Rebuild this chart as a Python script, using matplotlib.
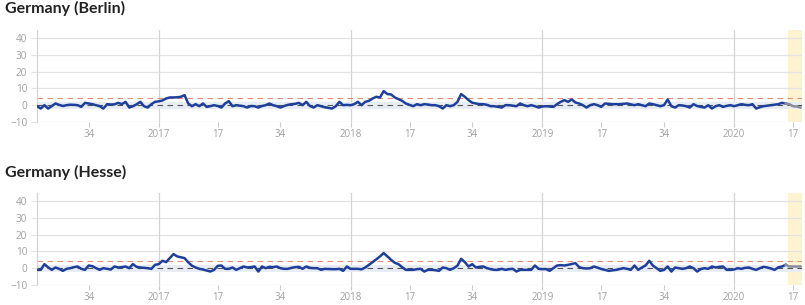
import matplotlib
matplotlib.use("Agg")
import matplotlib.pyplot as plt
import numpy as np

# ---------------- data ----------------
weeks_per_year = {2016: 52, 2017: 52, 2018: 52, 2019: 52, 2020: 53}
start_year, start_week = 2016, 20

berlin = [
    -0.6, -2, 0, -2, -0.5, 1, 0.2, -0.5, 0, 0.3,
    0.2, 0, -1, 1.4, 1, 0.6, 0, -0.6, -2, 0.6,
    0.4, 0.5, 1.4, 0.6, 2, -1.4, -0.6, 0.5, 2, -0.6,
    -1.4, 0.6, 2, 2.3, 2.8, 4, 4.6, 4.6, 4.7, 5,
    6, 1, -0.6, 0.6, -0.6, 1, -1, -0.6, 0, -0.5,
    -1.4, 1, 2.4, -0.6, 0, -0.3, -0.6, -1.4, -0.5, -0.6,
    -1.4, -0.5, 0, 1,
    0, -0.6, -1.4, -0.5, 0.2, 0.6, 0.8, 1.4, 0, 2,
    -0.5, -1.4, 0, -0.6, -1.2, -1.6, -2, -0.6, 2, 0,
    0.2, 0, 0.6, 2, 0, 2, 2.6, 4, 5, 4.6,
    8.4, 6.6, 6.4, 4.6, 3.6, 2.6, 1, 0.2, -0.6, 0.6,
    0, 0.6, 0.4, 0, 0, -0.6, -2, 0, -0.6, 0,
    2, 6.6, 5, 3, 1.5, 1, 0.6, 0.6, 0.2, -0.6,
    -0.6, -1, -1.4, 0, 0, -0.3, -0.6, 1, 0, -0.6,
    0, -0.6, -1.4,
    -0.8, -0.6, -0.8, -1, 0.6, 2, 3, 2, 3.4, 1.6,
    1, 0, -1.4, 0, 0.6, 0, -1, 1, 0.8, 0.6,
    0.6, 0.6, 0.8, 1, 0.5, 0, 0.6, 0, -0.6, 1,
    0.6, 0, -0.6, 0, 3.4, -0.6, -1.4, 0, -0.2, -0.6,
    -1.4, 0.6, -0.5, -1, -1.4, 0, -2, -0.6, 0, -1,
    -0.4, 0, -0.6, 0, 0.6, 0.2, 0, 0.6, -2, -1.2,
    -0.6, -0.3, 0, 0.3, 0.6, 1.4, 1, 0.6, -0.6, -0.8, -1.4,
]

hesse = [
    -1, -1, 2.4, 0.5, -1, 0.4, -0.4, -1.6, -0.4, 0,
    0.6, 1, -0.4, -1, 1.6, 1.2, 0, -1, 0, -0.4,
    -0.8, 1, 0.4, 0.6, 1, 0, 2.4, 0.8, 0.4, 0.2,
    0, -0.4, 2, 2.4, 4.4, 3.6, 6, 8.4, 7, 6.5,
    6, 3.5, 1.5, 0.4, -0.4, -0.8, -1.4, -2, -1, 1.4,
    1.6, -0.4, -0.4, 0.4, -1, 0, 1, 0.4, 0.6, 1,
    -2, 1, 0, 0.8,
    0.6, 1, 0, -0.4, -0.4, 0.2, 0.6, 0.8, -0.4, 1,
    0.2, 0, 0, -1, -0.4, -0.5, -0.6, -0.6, -0.4, -1.6,
    1, -0.4, -0.4, -0.4, -0.7, 0.4, 2, 3.6, 5.3, 7,
    9, 7, 5, 3.2, 2.4, 0.6, -1, -1, -1, -0.6,
    -0.4, -2, -1, -1, -1.2, -1.6, 0.4, 0, -1, 0,
    1.5, 5.6, 3.6, 1, 2.4, 0.4, 0.8, 1, 0, -0.6,
    -1, -1, -0.4, -1, -0.6, -0.4, -2, -1, -1, -1,
    -1, 1.6, -0.4,
    -0.6, -0.5, -1.6, 0, 1.6, 1.8, 1.6, 2, 2.5, 3,
    0.6, 0, -0.2, 0, 1, 0.3, -0.5, -1, -1.6, -1.3,
    -1, -0.5, 0, -0.4, -1, 1.6, -1, 0.4, 1.6, 4.4,
    1.5, 0, -1.6, -1, 1, -2, 0.4, 0, -0.4, 0,
    1, 0, -2, -0.5, 0, -0.4, 1, 0.4, 0.8, 1,
    -1, -1, -0.8, 0, -0.4, 0.2, 0.4, -0.4, -1, 0,
    0.8, 0.4, -0.2, -1, 0.5, 1, 2, 1, 1, 1, 1,
]

panel_titles = ["Germany (Berlin)", "Germany (Hesse)"]
tick_weeks = [(2016, 34), (2017, 1), (2017, 17), (2017, 34), (2018, 1), (2018, 17),
              (2018, 34), (2019, 1), (2019, 17), (2019, 34), (2020, 1), (2020, 17)]
tick_labels = ["34", "2017", "17", "34", "2018", "17", "34", "2019", "17", "34", "2020", "17"]
year_lines = [(2017, 1), (2018, 1), (2019, 1), (2020, 1)]
provisional_start = (2020, 15)   # grey, not yet complete weeks
highlight_start = (2020, 16)
y_ticks = [-10, 0, 10, 20, 30, 40]
baseline = 0
threshold = 4
band = (-2, 2)


def wk(year, week):
    off = 0
    for y in range(2016, year):
        off += weeks_per_year[y]
    return off + week - 1


# ---------------- figure ----------------
plt.rcParams["font.family"] = ["Open Sans", "DejaVu Sans"]
fig = plt.figure(figsize=(8.05, 3.05), dpi=100)

x0 = wk(start_year, start_week)
x_left = x0
x_right = x0 + len(berlin) - 1 + 0.3

axes_boxes = [
    [0.046, 0.5984, 0.9497, 0.3046],
    [0.046, 0.0640, 0.9497, 0.3046],
]
title_y = [0.972, 0.433]

grid_c = "#e3e3e3"
line_c = "#1f3f9c"
grey_c = "#8c8c9a"
tick_c = "#a0a0a0"

for box, ty, title, vals in zip(axes_boxes, title_y, panel_titles, [berlin, hesse]):
    ax = fig.add_axes(box)
    x = np.arange(x0, x0 + len(vals))
    v = np.array(vals, dtype=float)

    ax.set_xlim(x_left, x_right)
    ax.set_ylim(-10.3, 45)

    # highlight for last weeks
    ax.axvspan(wk(*highlight_start) - 0.3, x_right, color="#fdf4cf", zorder=0, lw=0)

    # horizontal grid
    for yt in y_ticks:
        ax.axhline(yt, color=grid_c, lw=0.9, zorder=1)
    # year lines
    for yl in year_lines:
        ax.axvline(wk(*yl), color="#d4d4d4", lw=0.9, zorder=1)

    # normal band
    ax.axhspan(band[0], band[1], color="#e8edf4", zorder=1.5, lw=0)
    ax.axhline(baseline, color="#555555", lw=0.8, ls=(0, (5, 4)), zorder=2)
    ax.axhline(threshold, color="#e0907a", lw=0.8, ls=(0, (5, 4)), zorder=2)

    ps = wk(*provisional_start) - x0
    ax.plot(x[:ps + 1], v[:ps + 1], color=line_c, lw=1.8, zorder=3,
            solid_joinstyle="round")
    ax.plot(x[ps:], v[ps:], color=grey_c, lw=1.8, zorder=3)

    ax.set_yticks(y_ticks)
    ax.set_yticklabels([str(t).replace("-", "\u2212") for t in y_ticks])
    ax.set_xticks([wk(*t) for t in tick_weeks])
    ax.set_xticklabels(tick_labels)
    ax.tick_params(axis="x", length=3.5, width=0.8, color="#cccccc", labelcolor=tick_c,
                   labelsize=7.0, pad=1.5)
    ax.tick_params(axis="y", length=4, width=0.8, color=grid_c, labelcolor=tick_c,
                   labelsize=7.2, pad=3)
    for s in ["top", "right", "bottom"]:
        ax.spines[s].set_visible(False)
    ax.spines["left"].set_color("#d4d4d4")
    ax.spines["left"].set_linewidth(0.9)

    fig.text(0.006, ty, title, fontsize=11.5, fontweight="bold", color="#222222",
             va="center", ha="left", family=["Lato", "DejaVu Sans"])

fig.savefig("out.png", dpi=100)
